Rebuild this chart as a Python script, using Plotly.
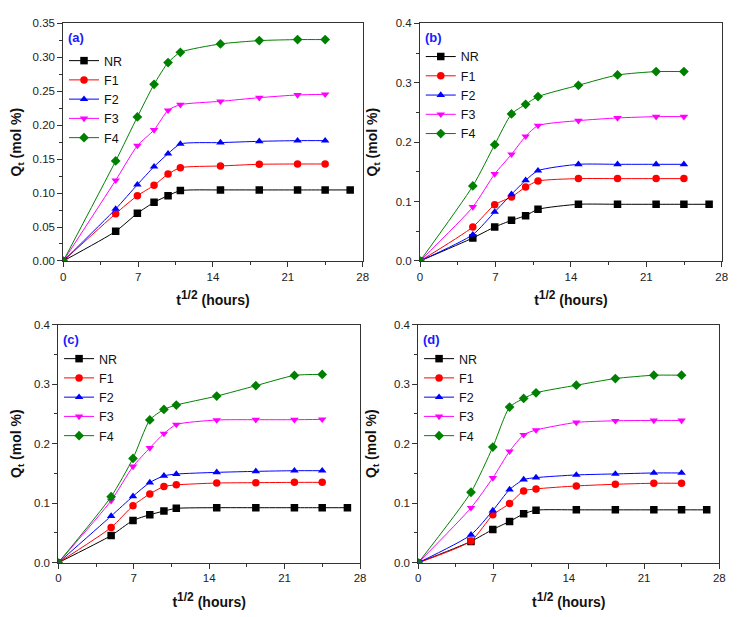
import plotly.graph_objects as go

# t^1/2 (hours) sampling points; NR has one extra point at the end
t_half = [0, 4.90, 6.93, 8.49, 9.80, 10.95, 14.70, 18.33, 21.91, 24.49]
t_half_nr = t_half + [26.83]

series_names = ["NR", "F1", "F2", "F3", "F4"]

# Q_t (mol %) per panel
panel_a = {
    "NR": [0, 0.0437, 0.0702, 0.0864, 0.0962, 0.1036, 0.1046, 0.1046, 0.1046, 0.1046, 0.1046],
    "F1": [0, 0.0697, 0.0962, 0.1114, 0.1280, 0.1374, 0.1399, 0.1424, 0.1428, 0.1428],
    "F2": [0, 0.0766, 0.1124, 0.1389, 0.1580, 0.1723, 0.1743, 0.1762, 0.1772, 0.1772],
    "F3": [0, 0.1188, 0.1699, 0.1929, 0.2219, 0.2302, 0.2351, 0.2405, 0.2445, 0.2454],
    "F4": [0, 0.1473, 0.2121, 0.2602, 0.2921, 0.3073, 0.3196, 0.3245, 0.3260, 0.3260],
}
panel_b = {
    "NR": [0, 0.0387, 0.0572, 0.0684, 0.0763, 0.0870, 0.0954, 0.0954, 0.0954, 0.0954, 0.0954],
    "F1": [0, 0.0572, 0.0948, 0.1077, 0.1245, 0.1346, 0.1386, 0.1386, 0.1386, 0.1386],
    "F2": [0, 0.0443, 0.0825, 0.1122, 0.1358, 0.1520, 0.1627, 0.1627, 0.1627, 0.1627],
    "F3": [0, 0.0909, 0.1464, 0.1795, 0.2098, 0.2278, 0.2362, 0.2407, 0.2429, 0.2429],
    "F4": [0, 0.1262, 0.1958, 0.2474, 0.2637, 0.2766, 0.2957, 0.3130, 0.3187, 0.3187],
}
panel_c = {
    "NR": [0, 0.0457, 0.0710, 0.0806, 0.0868, 0.0913, 0.0924, 0.0924, 0.0924, 0.0924, 0.0924],
    "F1": [0, 0.0592, 0.0958, 0.1156, 0.1280, 0.1308, 0.1339, 0.1345, 0.1350, 0.1350],
    "F2": [0, 0.0784, 0.1116, 0.1347, 0.1460, 0.1490, 0.1518, 0.1535, 0.1546, 0.1546],
    "F3": [0, 0.1043, 0.1618, 0.1928, 0.2170, 0.2322, 0.2398, 0.2403, 0.2403, 0.2409],
    "F4": [0, 0.1110, 0.1753, 0.2400, 0.2576, 0.2650, 0.2800, 0.2975, 0.3148, 0.3165],
}
panel_d = {
    "NR": [0, 0.0358, 0.0559, 0.0693, 0.0821, 0.0883, 0.0888, 0.0888, 0.0888, 0.0888, 0.0888],
    "F1": [0, 0.0365, 0.0804, 0.0994, 0.1207, 0.1240, 0.1290, 0.1318, 0.1335, 0.1335],
    "F2": [0, 0.0469, 0.0877, 0.1229, 0.1397, 0.1430, 0.1475, 0.1492, 0.1508, 0.1508],
    "F3": [0, 0.0922, 0.1425, 0.1872, 0.2150, 0.2230, 0.2358, 0.2385, 0.2391, 0.2391],
    "F4": [0, 0.1184, 0.1944, 0.2615, 0.2760, 0.2855, 0.2983, 0.3095, 0.3151, 0.3151],
}

panels = [("(a)", panel_a), ("(b)", panel_b), ("(c)", panel_c), ("(d)", panel_d)]

colors = {"NR": "#000000", "F1": "#ff0000", "F2": "#0000ff", "F3": "#ff00ff", "F4": "#008000"}
symbols = {"NR": "square", "F1": "circle", "F2": "triangle-up", "F3": "triangle-down", "F4": "diamond"}

# plot area domains in paper coords (page body adds an 8px offset)
x_domains = [[0.0749, 0.4806], [0.5583, 0.9671], [0.0682, 0.4770], [0.5560, 0.9638]]
y_domains = [[0.590, 0.9752], [0.590, 0.9752], [0.101, 0.4867], [0.101, 0.4867]]
legend_tops = [0.9384, 0.945, 0.4554, 0.4554]

fig = go.Figure()
font = "Arial, Liberation Sans, sans-serif"
xtitle = "<b>t<sup><span style='font-size:12px'>1/2</span></sup> (hours)</b>"

for i, (label, data) in enumerate(panels):
    n = i + 1
    sfx = "" if n == 1 else str(n)
    leg = "legend" if n == 1 else f"legend{n}"
    for name in series_names:
        x = t_half_nr if name == "NR" else t_half
        fig.add_trace(go.Scatter(
            x=x, y=data[name], name=name, mode="lines+markers",
            line=dict(color=colors[name], width=1, shape="spline", smoothing=0.6),
            marker=dict(symbol=symbols[name], color=colors[name], size=7.5),
            xaxis="x" + sfx, yaxis="y" + sfx, legend=leg,
        ))

    ymax = 0.35 if n == 1 else 0.4
    common = dict(showline=True, linecolor="#333", linewidth=1, mirror=True,
                  ticks="outside", ticklen=5, tickcolor="#333", showgrid=False,
                  zeroline=False, automargin=False,
                  tickfont=dict(family=font, size=11.5, color="#222"))
    fig.layout["xaxis" + sfx] = dict(
        common, domain=x_domains[i], anchor="y" + sfx, range=[0, 28],
        tickvals=[0, 7, 14, 21, 28],
        minor=dict(dtick=3.5, ticks="outside", ticklen=3, tickcolor="#333"),
        title=dict(text=xtitle, font=dict(family=font, size=14, color="#111"), standoff=13),
    )
    fig.layout["yaxis" + sfx] = dict(
        common, domain=y_domains[i], anchor="x" + sfx, range=[0, ymax],
        dtick=0.05 if n == 1 else 0.1, tickformat=".2f" if n == 1 else ".1f",
        minor=dict(dtick=0.025 if n == 1 else 0.05, ticks="outside", ticklen=3, tickcolor="#333"),
        title=dict(text="<b>Q<sub>t</sub> (mol %)</b>", font=dict(family=font, size=14, color="#111"),
                   standoff=14),
    )
    fig.layout[leg] = dict(
        x=x_domains[i][0] + 0.001, y=legend_tops[i], xanchor="left", yanchor="top",
        bgcolor="rgba(0,0,0,0)", font=dict(family=font, size=12.5, color="#111"),
        tracegroupgap=0, itemwidth=30,
    )
    fig.add_annotation(
        text=f"<b>{label}</b>", xref="paper", yref="paper",
        x=x_domains[i][0] + 0.004, y=y_domains[i][1] - 0.008, xanchor="left", yanchor="top",
        showarrow=False, font=dict(family=font, size=13, color="#1a1aff"),
    )

fig.update_layout(width=738, height=617, margin=dict(l=0, r=0, t=0, b=0),
                  plot_bgcolor="white", paper_bgcolor="white", showlegend=True)

fig.write_html("out.html")
